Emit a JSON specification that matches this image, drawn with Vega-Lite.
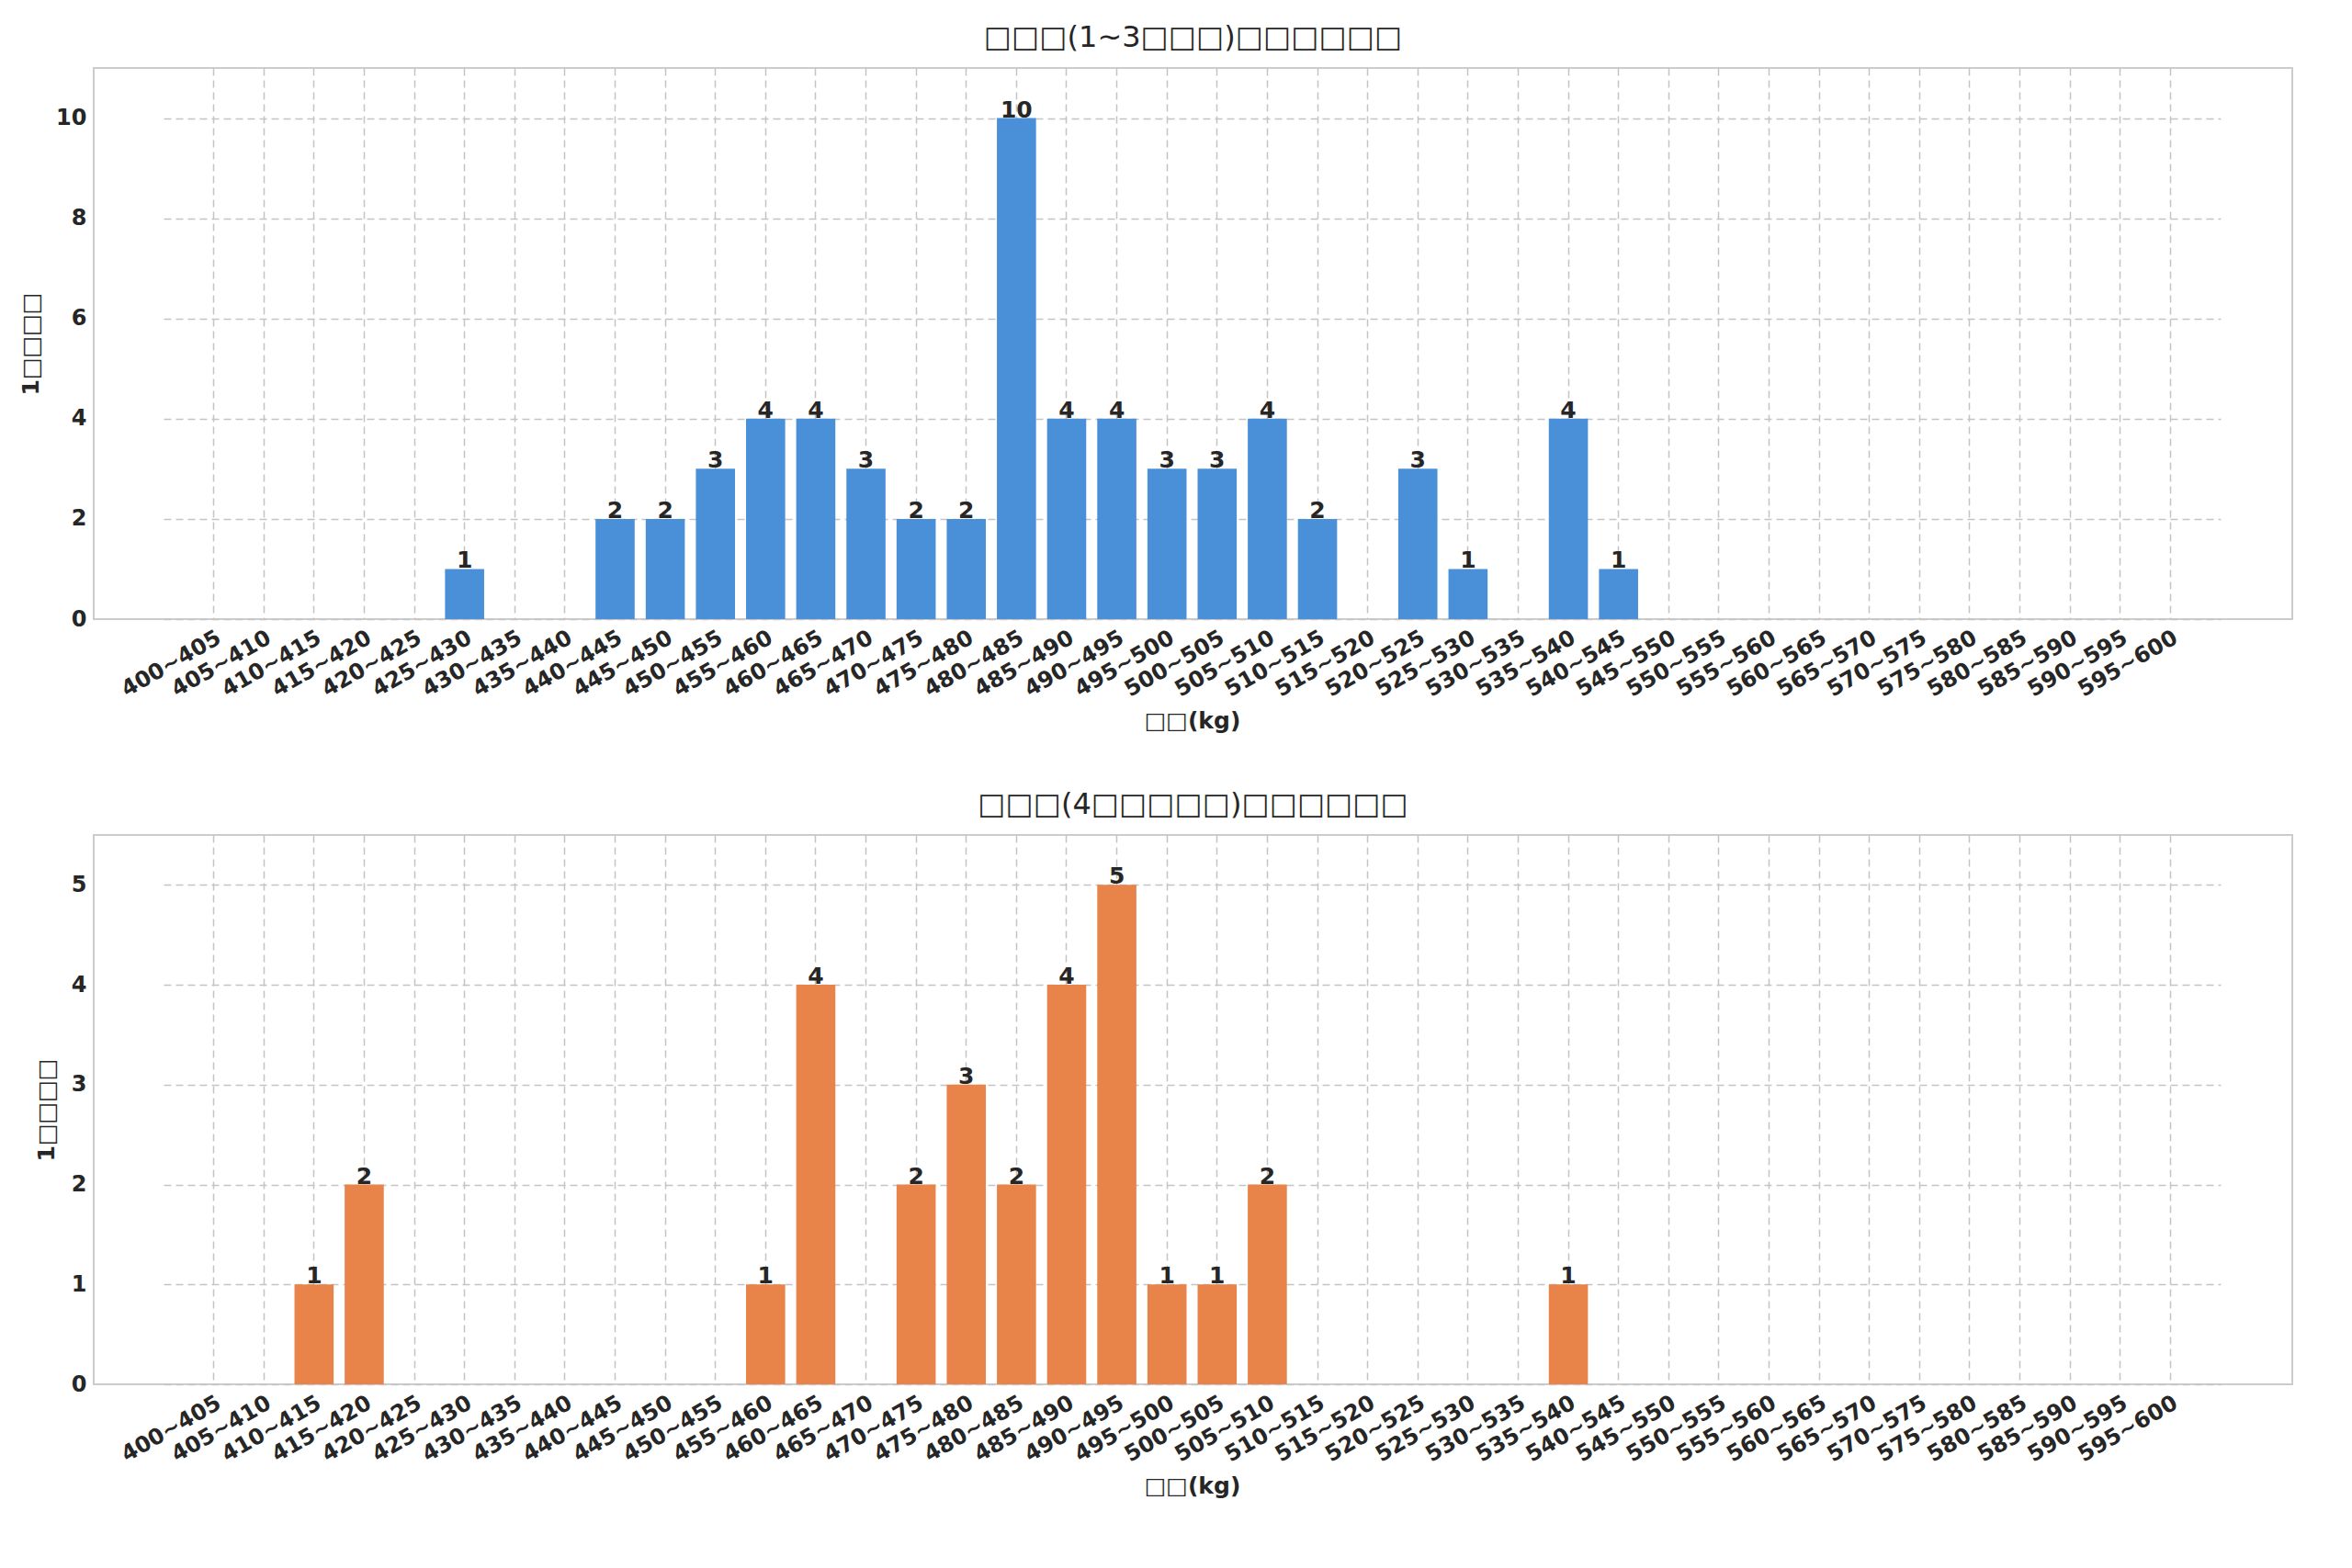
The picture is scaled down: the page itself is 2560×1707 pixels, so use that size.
{
  "$schema": "https://vega.github.io/schema/vega-lite/v6.json",
  "background": "white",
  "padding": {"left": 20, "top": 24, "right": 30, "bottom": 10},
  "datasets": {
    "top": [
      {"bin": "425~430", "count": 1}, {"bin": "440~445", "count": 2}, {"bin": "445~450", "count": 2},
      {"bin": "450~455", "count": 3}, {"bin": "455~460", "count": 4}, {"bin": "460~465", "count": 4},
      {"bin": "465~470", "count": 3}, {"bin": "470~475", "count": 2}, {"bin": "475~480", "count": 2},
      {"bin": "480~485", "count": 10}, {"bin": "485~490", "count": 4}, {"bin": "490~495", "count": 4},
      {"bin": "495~500", "count": 3}, {"bin": "500~505", "count": 3}, {"bin": "505~510", "count": 4},
      {"bin": "510~515", "count": 2}, {"bin": "520~525", "count": 3}, {"bin": "525~530", "count": 1},
      {"bin": "535~540", "count": 4}, {"bin": "540~545", "count": 1}
    ],
    "bottom": [
      {"bin": "410~415", "count": 1}, {"bin": "415~420", "count": 2}, {"bin": "455~460", "count": 1},
      {"bin": "460~465", "count": 4}, {"bin": "470~475", "count": 2}, {"bin": "475~480", "count": 3},
      {"bin": "480~485", "count": 2}, {"bin": "485~490", "count": 4}, {"bin": "490~495", "count": 5},
      {"bin": "495~500", "count": 1}, {"bin": "500~505", "count": 1}, {"bin": "505~510", "count": 2},
      {"bin": "535~540", "count": 1}
    ]
  },
  "vconcat": [
    {
      "title": {"text": "□□□(1~3□□□)□□□□□□"},
      "width": 2393,
      "height": 600,
      "data": {"name": "top"},
      "encoding": {
        "x": {"field": "bin", "type": "nominal", "title": "□□(kg)",
              "scale": {"domain": ["400~405","405~410","410~415","415~420","420~425","425~430","430~435","435~440","440~445","445~450","450~455","455~460","460~465","465~470","470~475","475~480","480~485","485~490","490~495","495~500","500~505","505~510","510~515","515~520","520~525","525~530","530~535","535~540","540~545","545~550","550~555","555~560","560~565","565~570","570~575","575~580","580~585","585~590","590~595","595~600"],
                        "range": [76, 2315], "paddingInner": 0.22, "paddingOuter": 0.61}},
        "y": {"field": "count", "type": "quantitative", "title": "1□□□□",
              "scale": {"domain": [0, 11]}, "axis": {"values": [0, 2, 4, 6, 8, 10]}}
      },
      "layer": [
        {"mark": {"type": "bar", "color": "#4a90d9"}},
        {"mark": {"type": "text", "baseline": "bottom", "dy": 4, "fontSize": 25, "fontWeight": "bold", "color": "#262626"},
         "encoding": {"text": {"field": "count"}}},
        {"data": {"values": [{"label": "□□□□□□□□: 62"}]},
         "mark": {"type": "text", "align": "left", "baseline": "middle", "dx": -10, "fontSize": 20, "fontWeight": "bold", "color": "#262626"},
         "encoding": {"x": {"datum": "540~545"}, "y": {"datum": 10}, "text": {"field": "label"}}}
      ]
    },
    {
      "title": {"text": "□□□(4□□□□□)□□□□□□"},
      "width": 2393,
      "height": 598,
      "data": {"name": "bottom"},
      "encoding": {
        "x": {"field": "bin", "type": "nominal", "title": "□□(kg)",
              "scale": {"domain": ["400~405","405~410","410~415","415~420","420~425","425~430","430~435","435~440","440~445","445~450","450~455","455~460","460~465","465~470","470~475","475~480","480~485","485~490","490~495","495~500","500~505","505~510","510~515","515~520","520~525","525~530","530~535","535~540","540~545","545~550","550~555","555~560","560~565","565~570","570~575","575~580","580~585","585~590","590~595","595~600"],
                        "range": [76, 2315], "paddingInner": 0.22, "paddingOuter": 0.61}},
        "y": {"field": "count", "type": "quantitative", "title": "1□□□□",
              "scale": {"domain": [0, 5.5]}, "axis": {"values": [0, 1, 2, 3, 4, 5]}}
      },
      "layer": [
        {"mark": {"type": "bar", "color": "#e8834a"}},
        {"mark": {"type": "text", "baseline": "bottom", "dy": 4, "fontSize": 25, "fontWeight": "bold", "color": "#262626"},
         "encoding": {"text": {"field": "count"}}},
        {"data": {"values": [{"label": "□□□□□□□□: 29"}]},
         "mark": {"type": "text", "align": "left", "baseline": "middle", "dx": -10, "fontSize": 20, "fontWeight": "bold", "color": "#262626"},
         "encoding": {"x": {"datum": "540~545"}, "y": {"datum": 5}, "text": {"field": "label"}}}
      ]
    }
  ],
  "spacing": 60,
  "config": {
    "font": "DejaVu Sans",
    "view": {"stroke": "#cccccc", "strokeWidth": 2},
    "title": {"fontSize": 32, "fontWeight": "normal", "color": "#262626", "offset": 16},
    "axis": {
      "labelFont": "DejaVu Sans", "labelFontSize": 24, "labelFontWeight": "bold", "labelColor": "#262626",
      "titleFont": "DejaVu Sans", "titleFontSize": 25, "titleFontWeight": "bold", "titleColor": "#262626",
      "grid": true, "gridDash": [8, 5], "gridColor": "#c4c4c4", "gridWidth": 1.5,
      "domain": false, "ticks": false, "labelPadding": 8
    },
    "axisX": {"labelAngle": -30, "bandPosition": 0.5, "titlePadding": 10},
    "axisY": {"titlePadding": 14}
  }
}
